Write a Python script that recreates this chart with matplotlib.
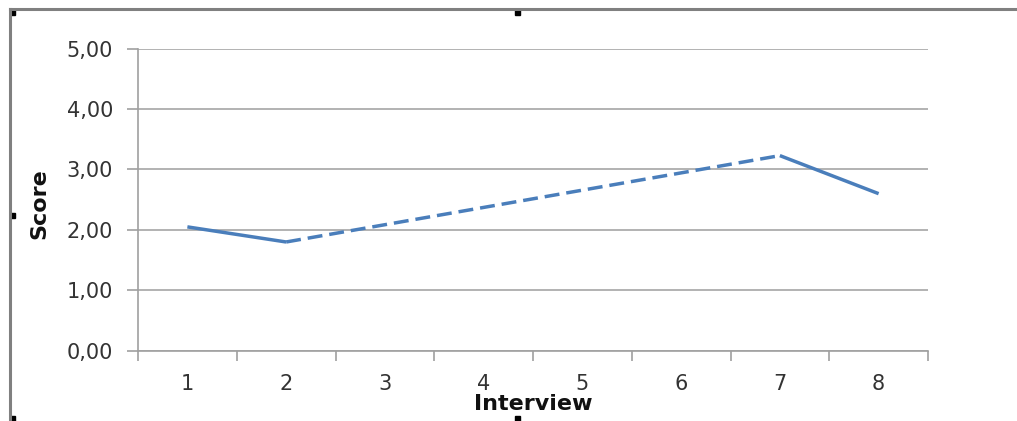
import numpy as np
import matplotlib
matplotlib.use("Agg")
import matplotlib.pyplot as plt
from matplotlib.lines import Line2D
from matplotlib.patches import Rectangle

interviews = [1, 2, 3, 4, 5, 6, 7, 8]
scores = [2.05, 1.80, np.nan, np.nan, np.nan, np.nan, 3.23, 2.60]
y_ticks = [0, 1, 2, 3, 4, 5]
y_labels = ["0,00", "1,00", "2,00", "3,00", "4,00", "5,00"]

plt.rcParams['font.family'] = ['DejaVu Sans']

W, H = 1017, 421
fig = plt.figure(figsize=(W / 100, H / 100), dpi=100)
ax = fig.add_axes([138 / W, 1 - 350.7 / H, (928 - 138) / W, (350.7 - 48.7) / H])

x = np.array(interviews, dtype=float) - 0.5
y = np.array(scores, dtype=float)
color = "#4a7ebb"
lw = 2.5

# solid segments
ax.plot(x, y, color=color, lw=lw, solid_capstyle="butt", zorder=3)
# dashed connection across missing values
known = ~np.isnan(y)
kx, ky = x[known], y[known]
for i in range(len(kx) - 1):
    if kx[i + 1] - kx[i] > 1:
        ax.plot([kx[i], kx[i + 1]], [ky[i], ky[i + 1]], color=color, lw=lw,
                linestyle=(0, (4.3, 2.0)), dash_capstyle="butt", zorder=3)

ax.set_xlim(0, len(interviews))
ax.set_ylim(0, 5)
ax.set_yticks(y_ticks)
ax.set_yticklabels(y_labels, fontsize=15, color="#333333")
ax.set_xticks(np.arange(0, len(interviews) + 1))
ax.set_xticklabels([])
ax.set_xticks(x, minor=True)
ax.set_xticklabels([str(v) for v in interviews], minor=True, fontsize=15, color="#333333")
ax.tick_params(axis="x", which="minor", length=0, pad=17)
ax.tick_params(axis="x", which="major", length=7, color="#a0a0a0", width=1.2, direction="out")
ax.tick_params(axis="y", length=8, color="#a0a0a0", width=1.2, direction="out", pad=10)

ax.grid(axis="y", color="#a6a6a6", lw=1.2)
ax.set_axisbelow(True)
for s in ["top", "right"]:
    ax.spines[s].set_visible(False)
ax.spines["left"].set_color("#a0a0a0")
ax.spines["bottom"].set_color("#a0a0a0")
ax.spines["left"].set_linewidth(1.2)
ax.spines["bottom"].set_linewidth(1.2)

fig.text(39 / W, 1 - 204 / H, "Score", rotation=90, fontsize=16, fontweight="bold",
         ha="center", va="center", color="#111111")
fig.text(533 / W, 1 - 404 / H, "Interview", fontsize=16, fontweight="bold",
         ha="center", va="center", color="#111111")

# chart border
fig.add_artist(Line2D([10 / W, 1.0], [1 - 9 / H, 1 - 9 / H], color="#808080", lw=2.2))
fig.add_artist(Line2D([10 / W, 10 / W], [0, 1 - 9 / H], color="#808080", lw=2.2))

# selection handles
for hx, hy in [(12, 12), (12, 215), (12, 418), (517, 12), (517, 418)]:
    fig.add_artist(Rectangle(((hx - 2.5) / W, 1 - (hy + 2.5) / H), 5 / W, 5 / H,
                             color="black", transform=fig.transFigure))

fig.savefig("out.png", dpi=100)
